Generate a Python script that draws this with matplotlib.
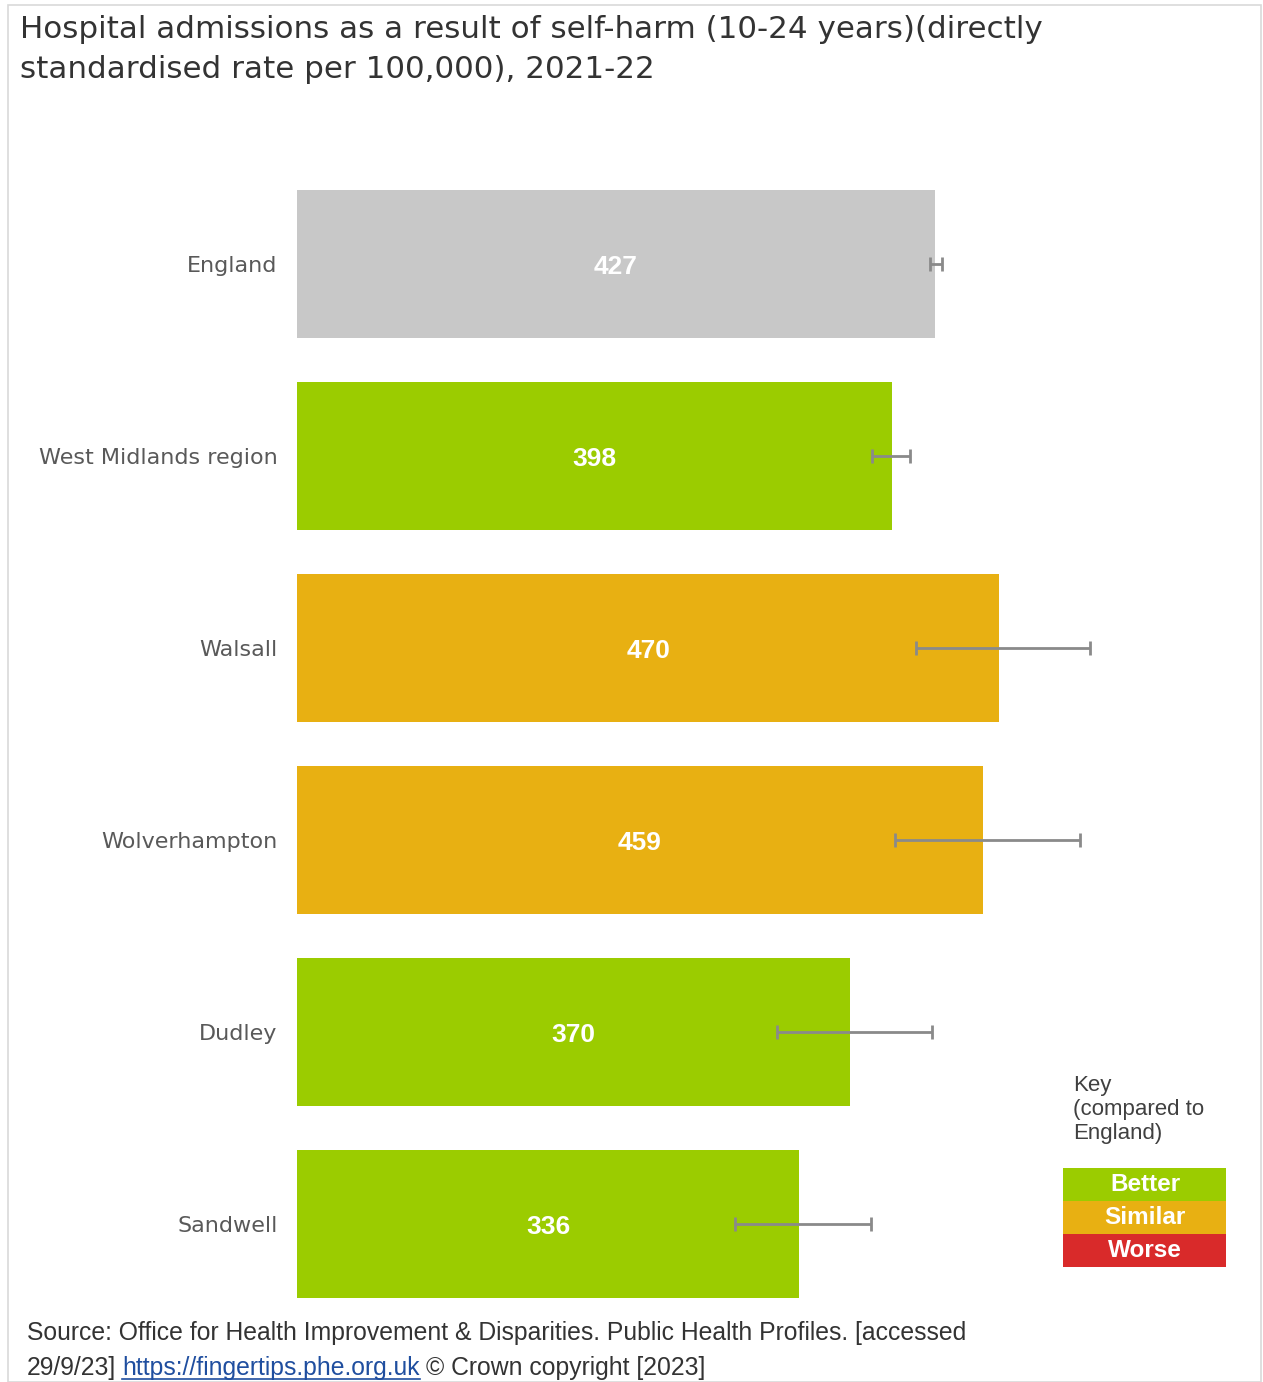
import matplotlib
matplotlib.use("Agg")
import matplotlib.pyplot as plt
import numpy as np
from matplotlib.patches import Rectangle
from matplotlib.lines import Line2D

categories = ["England", "West Midlands region", "Walsall", "Wolverhampton", "Dudley", "Sandwell"]
values = [427, 398, 470, 459, 370, 336]
lower_ci = [424, 385, 414, 400, 321, 293]
upper_ci = [432, 410, 531, 524, 425, 384]
status = ["England", "Better", "Similar", "Similar", "Better", "Better"]
status_colors = {"England": "#C8C8C8", "Better": "#9BCC00", "Similar": "#E8B012", "Worse": "#D92A2A"}
key_labels = ["Better", "Similar", "Worse"]

W, H = 1263, 1382
fig = plt.figure(figsize=(W / 100, H / 100), dpi=100)

# figure frame
fig.patches.append(Rectangle((8 / W, 0), (1261 - 8) / W, (H - 5) / H, transform=fig.transFigure,
                             fill=False, edgecolor="#D9D9D9", linewidth=1.2))

px_per_unit = 1.494
ax_left, ax_w = 297, 900
ax_top, ax_bot = 168, 1320
ax = fig.add_axes([ax_left / W, 1 - ax_bot / H, ax_w / W, (ax_bot - ax_top) / H])
ax.set_xlim(0, ax_w / px_per_unit)
ax.set_ylim(len(categories) - 0.5, -0.5)

y = np.arange(len(categories))
vals = np.array(values)
colors = [status_colors[s] for s in status]
ax.barh(y, vals, height=0.77, color=colors, zorder=1)
xerr = [vals - np.array(lower_ci), np.array(upper_ci) - vals]
ax.errorbar(vals, y, xerr=xerr, fmt="none", ecolor="#8A8A8A", elinewidth=2, capsize=5,
            capthick=2, zorder=3)
for yi, v in zip(y, vals):
    ax.text(v / 2, yi, f"{v}", ha="center", va="center_baseline", color="white", fontsize=19,
            fontweight="bold", family="Liberation Sans", zorder=4)

ax.set_yticks(y)
ax.set_yticklabels(categories, fontsize=16, color="#595959", family="DejaVu Sans")
ax.tick_params(axis="y", length=0, pad=14)
ax.set_xticks([])
for s in ax.spines.values():
    s.set_visible(False)

# title
fig.text(20 / W, 1 - 30 / H, "Hospital admissions as a result of self-harm (10-24 years)(directly",
         fontsize=22.3, color="#333333", va="center", ha="left", family="DejaVu Sans")
fig.text(20 / W, 1 - 70 / H, "standardised rate per 100,000), 2021-22",
         fontsize=22.3, color="#333333", va="center", ha="left", family="DejaVu Sans")

# key
fig.text(1073 / W, 1 - 1075 / H, "Key\n(compared to\nEngland)", fontsize=16, color="#404040",
         va="top", ha="left", family="Liberation Sans", linespacing=1.2)
key_top = 1168
key_h = 33
for i, lab in enumerate(key_labels):
    yt = key_top + i * key_h
    fig.patches.append(Rectangle((1063 / W, 1 - (yt + key_h) / H), (1226 - 1063) / W, key_h / H,
                                 transform=fig.transFigure, facecolor=status_colors[lab],
                                 edgecolor="none"))
    fig.text(1145 / W, 1 - (yt + key_h / 2) / H, lab, color="white", fontsize=17.5, fontweight="bold",
             ha="center", va="center", family="Liberation Sans")

# source
fig.text(27 / W, 1 - 1333 / H,
         "Source: Office for Health Improvement & Disparities. Public Health Profiles. [accessed",
         fontsize=17.8, color="#333333", va="center", ha="left", family="Liberation Sans")
fig.canvas.draw()
renderer = fig.canvas.get_renderer()
x0 = 27
yline = 1368
parts = [("29/9/23]", "#333333", False), ("https://fingertips.phe.org.uk", "#1F4E9F", True),
         ("\u00a9 Crown copyright [2023]", "#333333", False)]
for txt, col, ul in parts:
    t = fig.text(x0 / W, 1 - yline / H, txt, fontsize=17.8, color=col, va="center", ha="left",
                 family="Liberation Sans")
    bb = t.get_window_extent(renderer)
    if ul:
        fig.lines.append(Line2D([bb.x0 / W, bb.x1 / W], [(bb.y0 + 1) / H, (bb.y0 + 1) / H],
                                transform=fig.transFigure, color=col, linewidth=1.2))
    x0 = bb.x1 + 6

fig.savefig("out.png", dpi=100)
